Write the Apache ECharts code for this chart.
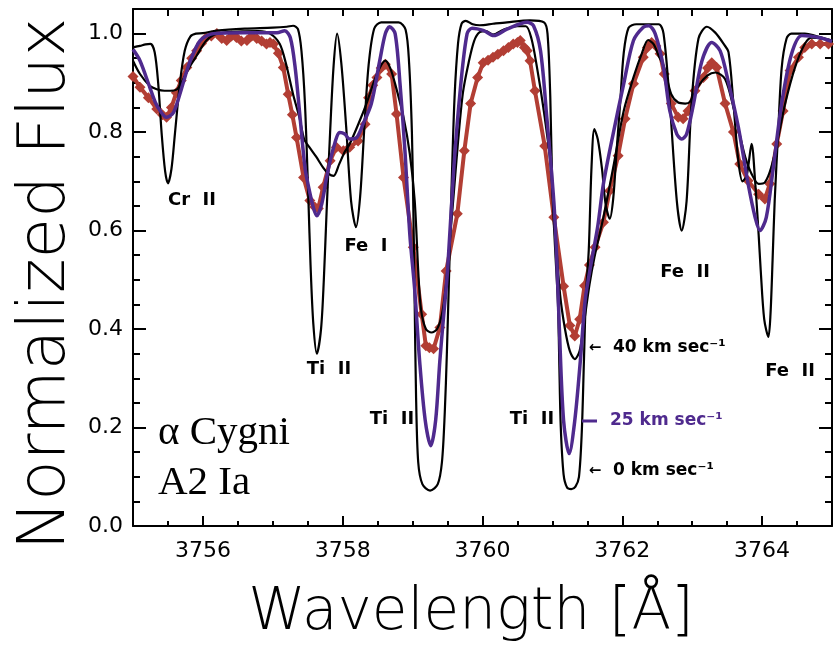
<!DOCTYPE html>
<html><head><meta charset="utf-8">
<script src="https://cdn.jsdelivr.net/npm/echarts@6/dist/echarts.min.js"></script>
<style>html,body{margin:0;padding:0;background:#fff}#c{width:834px;height:651px}</style>
</head><body><div id="c"></div>
<script>
// ---- tick labels / tick positions ----
const xMajorTicks = [3756, 3758, 3760, 3762, 3764];
const xMinorTicks = [3755.5, 3756.5, 3757, 3757.5, 3758.5, 3759, 3759.5, 3760.5, 3761, 3761.5, 3762.5, 3763, 3763.5, 3764.5];
const xTopTicks = [3755.5, 3756, 3756.5, 3757, 3757.5, 3758, 3758.5, 3759, 3759.5, 3760, 3760.5, 3761, 3761.5, 3762, 3762.5, 3763, 3763.5, 3764, 3764.5];
const yMajorTicks = [0, 0.2, 0.4, 0.6, 0.8, 1.0];
const yMinorTicks = [0.05, 0.1, 0.15, 0.25, 0.3, 0.35, 0.45, 0.5, 0.55, 0.65, 0.7, 0.75, 0.85, 0.9, 0.95];

// ---- series: [wavelength (Å), normalized flux] ----
const model0 = [[3755.00,0.972],[3755.10,0.975],[3755.18,0.978],[3755.25,0.979],[3755.31,0.962],[3755.36,0.900],[3755.41,0.797],[3755.46,0.720],[3755.50,0.696],[3755.55,0.725],[3755.60,0.797],[3755.67,0.898],[3755.74,0.965],[3755.82,0.994],[3755.90,1.000],[3756.00,1.001],[3756.20,1.006],[3756.60,1.010],[3757.00,1.012],[3757.20,1.014],[3757.29,1.016],[3757.36,1.009],[3757.41,0.965],[3757.46,0.858],[3757.51,0.660],[3757.54,0.530],[3757.58,0.410],[3757.63,0.350],[3757.69,0.400],[3757.73,0.500],[3757.77,0.640],[3757.82,0.800],[3757.87,0.935],[3757.92,1.000],[3757.98,0.940],[3758.05,0.810],[3758.12,0.660],[3758.19,0.607],[3758.25,0.670],[3758.31,0.810],[3758.37,0.935],[3758.45,1.010],[3758.55,1.023],[3758.80,1.023],[3758.90,1.008],[3758.95,0.940],[3758.99,0.800],[3759.01,0.650],[3759.03,0.450],[3759.05,0.260],[3759.08,0.130],[3759.14,0.085],[3759.25,0.072],[3759.36,0.085],[3759.42,0.130],[3759.46,0.230],[3759.49,0.350],[3759.52,0.500],[3759.56,0.700],[3759.60,0.870],[3759.65,0.980],[3759.70,1.020],[3759.76,1.026],[3759.86,1.019],[3759.96,1.017],[3760.15,1.020],[3760.35,1.023],[3760.68,1.027],[3760.88,1.023],[3760.93,1.000],[3760.97,0.870],[3761.00,0.680],[3761.04,0.560],[3761.08,0.450],[3761.10,0.320],[3761.12,0.200],[3761.16,0.105],[3761.21,0.078],[3761.27,0.075],[3761.33,0.080],[3761.38,0.100],[3761.42,0.190],[3761.45,0.330],[3761.48,0.470],[3761.52,0.560],[3761.56,0.730],[3761.60,0.806],[3761.65,0.785],[3761.71,0.725],[3761.76,0.655],[3761.82,0.624],[3761.87,0.665],[3761.92,0.765],[3761.97,0.860],[3762.02,0.960],[3762.09,1.012],[3762.20,1.019],[3762.52,1.019],[3762.59,1.000],[3762.68,0.858],[3762.78,0.660],[3762.85,0.600],[3762.92,0.660],[3762.99,0.858],[3763.09,0.990],[3763.21,1.014],[3763.33,1.002],[3763.45,0.979],[3763.52,0.962],[3763.59,0.858],[3763.66,0.742],[3763.72,0.700],[3763.78,0.712],[3763.85,0.776],[3763.90,0.700],[3763.95,0.593],[3763.98,0.520],[3764.03,0.420],[3764.09,0.384],[3764.12,0.430],[3764.15,0.540],[3764.18,0.660],[3764.23,0.800],[3764.28,0.930],[3764.35,0.990],[3764.42,1.000],[3764.61,1.000],[3764.85,0.992],[3765.00,0.986]];

const model40 = [[3755.00,0.945],[3755.10,0.918],[3755.24,0.894],[3755.34,0.887],[3755.45,0.884],[3755.53,0.884],[3755.63,0.887],[3755.72,0.908],[3755.82,0.935],[3755.91,0.955],[3756.05,0.986],[3756.20,1.000],[3756.50,1.004],[3756.80,1.005],[3756.96,1.000],[3757.10,0.979],[3757.19,0.938],[3757.29,0.877],[3757.38,0.830],[3757.45,0.785],[3757.52,0.770],[3757.62,0.750],[3757.72,0.728],[3757.80,0.715],[3757.87,0.711],[3757.95,0.735],[3758.03,0.760],[3758.10,0.776],[3758.22,0.815],[3758.34,0.858],[3758.49,0.918],[3758.61,0.945],[3758.68,0.930],[3758.75,0.898],[3758.87,0.830],[3758.96,0.756],[3759.03,0.661],[3759.08,0.520],[3759.12,0.440],[3759.19,0.400],[3759.27,0.393],[3759.35,0.400],[3759.42,0.430],[3759.47,0.480],[3759.52,0.560],[3759.58,0.660],[3759.65,0.780],[3759.72,0.880],[3759.80,0.940],[3759.88,0.985],[3759.96,1.003],[3760.05,1.005],[3760.15,0.998],[3760.30,1.008],[3760.50,1.015],[3760.62,1.015],[3760.70,0.990],[3760.78,0.931],[3760.87,0.850],[3760.97,0.740],[3761.04,0.600],[3761.11,0.470],[3761.18,0.400],[3761.25,0.355],[3761.32,0.339],[3761.39,0.356],[3761.46,0.420],[3761.53,0.490],[3761.60,0.545],[3761.73,0.627],[3761.87,0.728],[3762.02,0.843],[3762.16,0.911],[3762.28,0.960],[3762.37,0.987],[3762.45,0.978],[3762.52,0.955],[3762.60,0.931],[3762.70,0.877],[3762.80,0.860],[3762.90,0.858],[3762.97,0.862],[3763.09,0.894],[3763.22,0.915],[3763.33,0.921],[3763.47,0.908],[3763.59,0.850],[3763.68,0.795],[3763.76,0.749],[3763.85,0.715],[3763.95,0.695],[3764.04,0.698],[3764.13,0.728],[3764.23,0.789],[3764.33,0.858],[3764.47,0.931],[3764.61,0.979],[3764.71,0.992],[3764.85,0.990],[3765.00,0.984]];

const model25 = [[3755.00,0.968],[3755.10,0.945],[3755.24,0.891],[3755.32,0.860],[3755.39,0.843],[3755.48,0.830],[3755.58,0.840],[3755.67,0.877],[3755.75,0.915],[3755.82,0.945],[3755.96,0.986],[3756.15,1.000],[3756.60,1.002],[3757.06,1.002],[3757.17,1.006],[3757.25,0.992],[3757.32,0.931],[3757.39,0.830],[3757.46,0.728],[3757.51,0.690],[3757.58,0.647],[3757.63,0.630],[3757.70,0.654],[3757.77,0.708],[3757.87,0.769],[3757.96,0.799],[3758.03,0.796],[3758.10,0.786],[3758.20,0.789],[3758.29,0.816],[3758.41,0.858],[3758.53,0.945],[3758.61,1.000],[3758.67,1.014],[3758.75,1.000],[3758.82,0.898],[3758.89,0.763],[3758.96,0.593],[3759.03,0.480],[3759.10,0.336],[3759.18,0.215],[3759.26,0.163],[3759.33,0.215],[3759.39,0.336],[3759.44,0.420],[3759.50,0.518],[3759.59,0.728],[3759.69,0.898],[3759.78,1.000],[3759.85,1.011],[3760.02,1.006],[3760.16,0.996],[3760.35,1.009],[3760.64,1.023],[3760.73,1.016],[3760.83,0.965],[3760.92,0.830],[3761.02,0.660],[3761.06,0.550],[3761.10,0.400],[3761.16,0.214],[3761.24,0.147],[3761.32,0.214],[3761.40,0.336],[3761.47,0.460],[3761.55,0.530],[3761.65,0.610],[3761.73,0.695],[3761.87,0.797],[3762.02,0.898],[3762.16,0.986],[3762.30,1.013],[3762.38,1.016],[3762.47,1.000],[3762.59,0.931],[3762.68,0.843],[3762.78,0.796],[3762.85,0.786],[3762.92,0.796],[3763.02,0.858],[3763.14,0.945],[3763.28,0.982],[3763.40,0.965],[3763.52,0.900],[3763.66,0.810],[3763.80,0.695],[3763.90,0.627],[3763.97,0.600],[3764.06,0.627],[3764.16,0.728],[3764.28,0.858],[3764.42,0.958],[3764.57,0.996],[3764.81,0.992],[3765.00,0.984]];

const observed = [[3755.00,0.913],[3755.10,0.891],[3755.22,0.870],[3755.34,0.847],[3755.42,0.835],[3755.48,0.830],[3755.55,0.850],[3755.62,0.880],[3755.69,0.905],[3755.77,0.931],[3755.84,0.950],[3755.91,0.965],[3755.98,0.980],[3756.05,0.992],[3756.12,0.995],[3756.20,1.000],[3756.27,0.990],[3756.34,0.986],[3756.41,0.995],[3756.48,0.992],[3756.55,0.985],[3756.63,0.986],[3756.70,0.995],[3756.77,0.990],[3756.84,0.985],[3756.91,0.979],[3756.96,0.982],[3757.01,0.979],[3757.08,0.960],[3757.15,0.931],[3757.22,0.877],[3757.28,0.835],[3757.34,0.789],[3757.44,0.708],[3757.53,0.661],[3757.60,0.648],[3757.65,0.645],[3757.72,0.688],[3757.82,0.742],[3757.91,0.769],[3758.01,0.762],[3758.10,0.769],[3758.22,0.782],[3758.32,0.816],[3758.37,0.870],[3758.43,0.895],[3758.49,0.911],[3758.55,0.930],[3758.61,0.938],[3758.70,0.918],[3758.77,0.837],[3758.87,0.708],[3759.01,0.566],[3759.13,0.430],[3759.19,0.366],[3759.24,0.362],[3759.30,0.360],[3759.39,0.403],[3759.48,0.518],[3759.64,0.634],[3759.74,0.762],[3759.83,0.858],[3759.93,0.911],[3760.01,0.941],[3760.08,0.946],[3760.15,0.952],[3760.22,0.958],[3760.30,0.965],[3760.37,0.972],[3760.44,0.979],[3760.50,0.982],[3760.54,0.986],[3760.60,0.972],[3760.64,0.965],[3760.68,0.945],[3760.75,0.884],[3760.89,0.772],[3761.02,0.627],[3761.16,0.487],[3761.25,0.407],[3761.32,0.386],[3761.39,0.420],[3761.46,0.488],[3761.53,0.530],[3761.61,0.566],[3761.73,0.617],[3761.82,0.681],[3761.94,0.752],[3762.04,0.827],[3762.16,0.898],[3762.30,0.952],[3762.36,0.972],[3762.42,0.982],[3762.48,0.975],[3762.54,0.959],[3762.60,0.918],[3762.70,0.858],[3762.80,0.830],[3762.87,0.827],[3762.94,0.843],[3763.04,0.884],[3763.16,0.911],[3763.22,0.930],[3763.28,0.941],[3763.35,0.931],[3763.47,0.858],[3763.59,0.800],[3763.68,0.735],[3763.80,0.701],[3763.95,0.674],[3764.04,0.664],[3764.11,0.695],[3764.21,0.776],[3764.30,0.843],[3764.40,0.925],[3764.52,0.952],[3764.61,0.972],[3764.71,0.979],[3764.83,0.979],[3764.95,0.979]];

const X_MIN = 3755, X_MAX = 3765, Y_MIN = 0, Y_MAX = 1.05;
const PURPLE = '#4f2a8e', RED = '#b23e34';
const FONT = '"DejaVu Sans", sans-serif';
const ANNOT = 'bold 18px ' + FONT;
const KM = 'bold 17px ' + FONT;

const chart = echarts.init(document.getElementById('c'));

function xAx(opts) {
  return Object.assign({type: 'value', min: X_MIN, max: X_MAX, splitLine: {show: false},
    axisLine: {show: false}, axisLabel: {show: false}}, opts);
}
function yAx(opts) {
  return Object.assign({type: 'value', min: Y_MIN, max: Y_MAX, splitLine: {show: false},
    axisLine: {show: false}, axisLabel: {show: false}}, opts);
}
const tickStyle = {color: '#000', width: 2};

function label(x, y, text, font, fill, align) {
  return {type: 'text', x: x, y: y, z: 10,
    style: {text: text, font: font, fill: fill || '#000', textAlign: align || 'center', textVerticalAlign: 'middle'}};
}

chart.setOption({
  animation: false,
  backgroundColor: '#fff',
  grid: {left: 133, right: 2, top: 9, bottom: 125, containLabel: false},
  xAxis: [
    xAx({position: 'bottom', axisLine: {show: true, onZero: false, lineStyle: {color: '#000', width: 2}},
      axisTick: {show: true, inside: true, length: 10, lineStyle: tickStyle, customValues: xMajorTicks},
      axisLabel: {show: true, customValues: xMajorTicks, fontSize: 22, fontFamily: FONT, color: '#000', margin: 14,
        formatter: v => String(v)}}),
    xAx({position: 'bottom', axisTick: {show: true, inside: true, length: 5, lineStyle: tickStyle, customValues: xMinorTicks}}),
    xAx({position: 'top', axisLine: {show: true, onZero: false, lineStyle: {color: '#000', width: 2}},
      axisTick: {show: true, inside: true, length: 7, lineStyle: tickStyle, customValues: xTopTicks}})
  ],
  yAxis: [
    yAx({position: 'left', axisLine: {show: true, onZero: false, lineStyle: {color: '#000', width: 2}},
      axisTick: {show: true, inside: true, length: 13, lineStyle: tickStyle, customValues: yMajorTicks},
      axisLabel: {show: true, customValues: yMajorTicks, fontSize: 22, fontFamily: FONT, color: '#000', margin: 10,
        formatter: v => v.toFixed(1)}}),
    yAx({position: 'left', axisTick: {show: true, inside: true, length: 7, lineStyle: tickStyle, customValues: yMinorTicks}}),
    yAx({position: 'right', axisLine: {show: true, onZero: false, lineStyle: {color: '#000', width: 2}},
      axisTick: {show: true, inside: true, length: 13, lineStyle: tickStyle, customValues: yMajorTicks}}),
    yAx({position: 'right', axisTick: {show: true, inside: true, length: 7, lineStyle: tickStyle, customValues: yMinorTicks}})
  ],
  series: [
    {name: 'observed', type: 'line', data: observed, xAxisIndex: 0, yAxisIndex: 0,
      symbol: 'diamond', symbolSize: 11, showSymbol: true, smooth: false,
      itemStyle: {color: RED}, lineStyle: {color: RED, width: 4}, z: 2},
    {name: '40 km/s', type: 'line', data: model40, symbol: 'none', smooth: 0.3,
      lineStyle: {color: '#000', width: 2.2}, z: 3},
    {name: '0 km/s', type: 'line', data: model0, symbol: 'none', smooth: 0.3,
      lineStyle: {color: '#000', width: 2.2}, z: 3},
    {name: '25 km/s', type: 'line', data: model25, symbol: 'none', smooth: 0.3,
      lineStyle: {color: PURPLE, width: 3.5}, z: 4}
  ],
  graphic: [
    {type: 'text', x: 47, y: 284, rotation: Math.PI / 2, z: 10,
      style: {text: 'Normalized Flux', font: '200 66px "DejaVu Sans ExtraLight", "DejaVu Sans"', fill: '#000', textAlign: 'center', textVerticalAlign: 'middle'}},
    {type: 'text', x: 471, y: 614, z: 10,
      style: {text: 'Wavelength [Å]', font: '200 58px "DejaVu Sans ExtraLight", "DejaVu Sans"', fill: '#000', textAlign: 'center', textVerticalAlign: 'middle'}},
    label(158, 433, 'α Cygni', '41px "Liberation Serif", serif', '#000', 'left'),
    label(158, 483, 'A2 Ia', '41px "Liberation Serif", serif', '#000', 'left'),
    label(192, 200, 'Cr  II', ANNOT),
    label(366, 246, 'Fe  I', ANNOT),
    label(329, 369, 'Ti  II', ANNOT),
    label(392, 419, 'Ti  II', ANNOT),
    label(532, 419, 'Ti  II', ANNOT),
    label(685, 272, 'Fe  II', ANNOT),
    label(790, 371, 'Fe  II', ANNOT),
    label(595, 348, '←', 'bold 15px ' + FONT),
    label(613, 348, '40 km sec⁻¹', KM, '#000', 'left'),
    {type: 'line', z: 10, shape: {x1: 582, y1: 421, x2: 597, y2: 421}, style: {stroke: PURPLE, lineWidth: 3}},
    label(610, 421, '25 km sec⁻¹', KM, PURPLE, 'left'),
    label(595, 471, '←', 'bold 15px ' + FONT),
    label(613, 471, '0 km sec⁻¹', KM, '#000', 'left')
  ]
});
</script></body></html>
